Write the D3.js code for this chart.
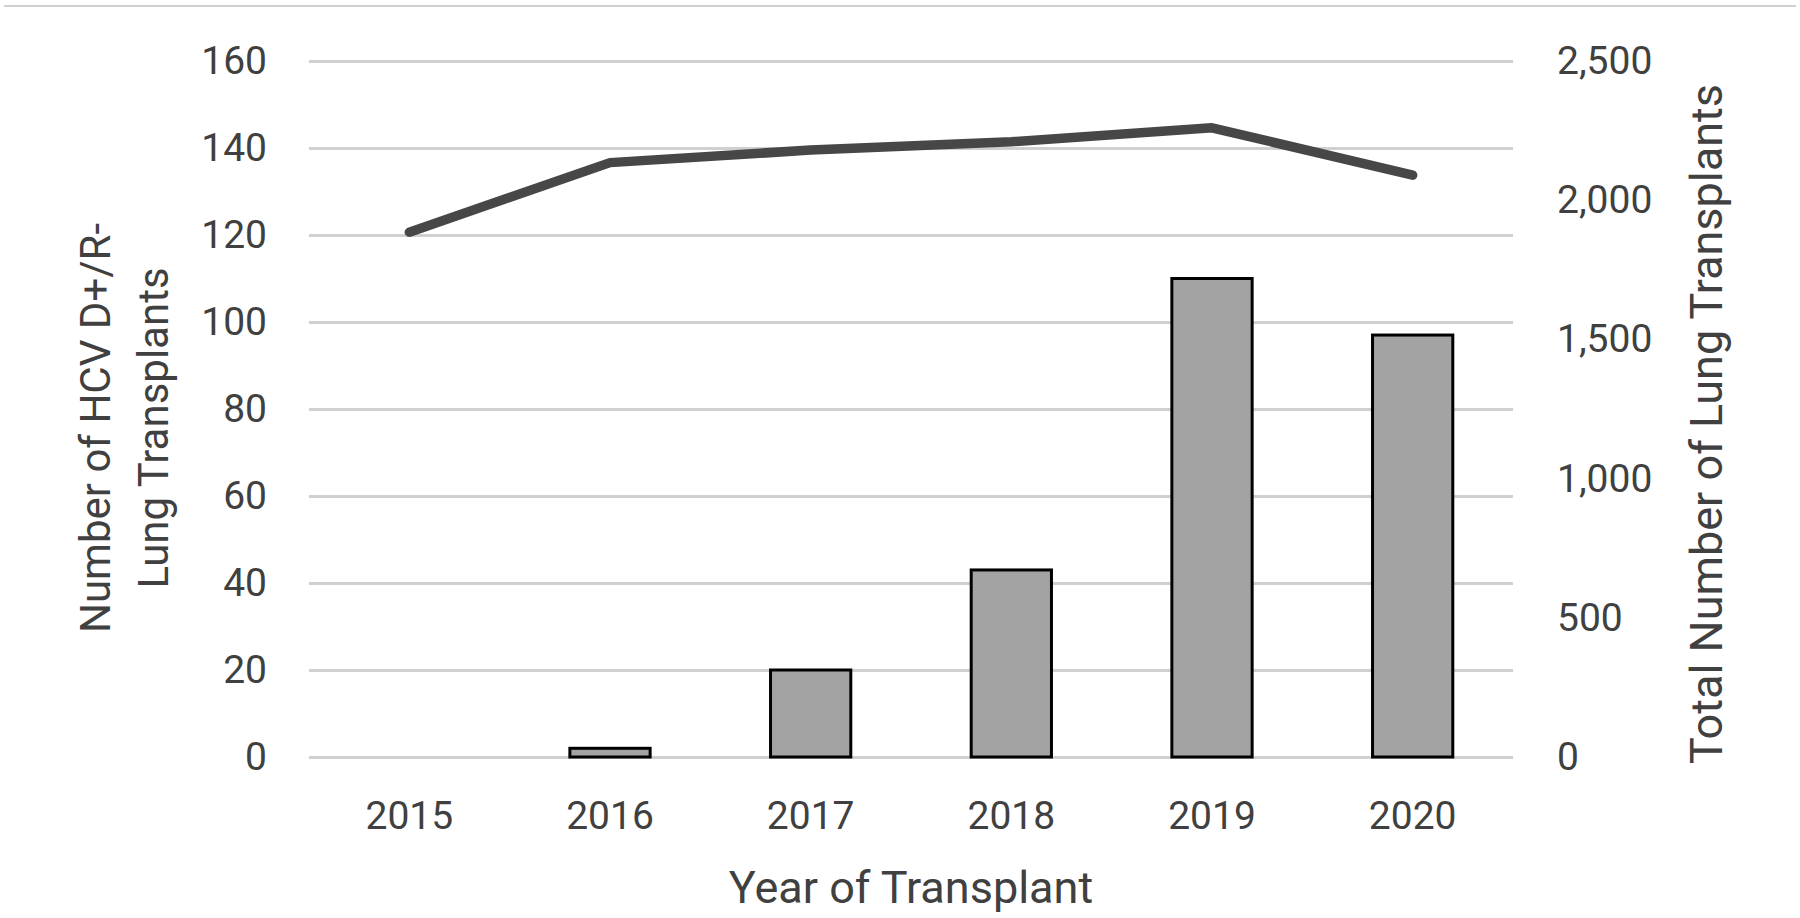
<!DOCTYPE html>
<html>
<head>
<meta charset="utf-8">
<script src="https://cdn.jsdelivr.net/npm/d3@7/dist/d3.min.js"></script>
<style>
  html, body { margin: 0; padding: 0; background: #ffffff; }
  svg { display: block; }
  text { font-family: Roboto, "Open Sans", sans-serif; fill: #404040; }
</style>
</head>
<body>
<svg id="chart" width="1800" height="918"></svg>
<script>
// ---- data ----
const years = ["2015", "2016", "2017", "2018", "2019", "2020"];
const hcvTransplants = [0, 2, 20, 43, 110, 97];
const totalTransplants = [1885, 2135, 2180, 2210, 2260, 2090];
const leftTicks = [0, 20, 40, 60, 80, 100, 120, 140, 160];
const rightTicks = [0, 500, 1000, 1500, 2000, 2500];
const xTitle = "Year of Transplant";
const leftTitleLines = ["Number of HCV D+/R-", "Lung Transplants"];
const rightTitle = "Total Number of Lung Transplants";

// ---- layout ----
const plot = { left: 309, right: 1513, top: 61, bottom: 757 };
const svg = d3.select("#chart");

// top border line
svg.append("line")
  .attr("x1", 4).attr("x2", 1796).attr("y1", 6).attr("y2", 6)
  .attr("stroke", "#d0d0d0").attr("stroke-width", 2);

const x = d3.scaleBand().domain(years).range([plot.left, plot.right]).paddingInner(0).paddingOuter(0);
const barW = x.bandwidth() * 0.4;
const yL = d3.scaleLinear().domain([0, 160]).range([plot.bottom, plot.top]);
const yR = d3.scaleLinear().domain([0, 2500]).range([plot.bottom, plot.top]);

// gridlines
const grid = svg.append("g")
  .attr("transform", `translate(${plot.left},0)`)
  .call(d3.axisLeft(yL).tickValues(leftTicks).tickSize(-(plot.right - plot.left)).tickFormat(""));
grid.select(".domain").remove();
grid.selectAll("line").attr("stroke", "#d0d0d0").attr("stroke-width", 2.8);

// left axis labels
const gL = svg.append("g")
  .attr("transform", `translate(${plot.left},0)`)
  .call(d3.axisLeft(yL).tickValues(leftTicks).tickSize(0).tickPadding(42).tickFormat(d3.format("d")));
gL.select(".domain").remove();
gL.selectAll("text").style("font-size", "39px").attr("fill", "#404040");

// right axis labels
const gR = svg.append("g")
  .attr("transform", `translate(${plot.right},0)`)
  .call(d3.axisRight(yR).tickValues(rightTicks).tickSize(0).tickPadding(44).tickFormat(d3.format(",")));
gR.select(".domain").remove();
gR.selectAll("text").style("font-size", "39px").attr("fill", "#404040");

// bottom axis labels
const gB = svg.append("g")
  .attr("transform", `translate(0,${plot.bottom})`)
  .call(d3.axisBottom(x).tickSize(0).tickPadding(0));
gB.select(".domain").remove();
gB.selectAll("text").style("font-size", "39px").attr("fill", "#404040")
  .attr("dy", 0).attr("y", 72);

// bars
const barData = years.map((yr, i) => ({ year: yr, v: hcvTransplants[i] })).filter(d => d.v > 0);
svg.append("g").selectAll("rect").data(barData).join("rect")
  .attr("x", d => x(d.year) + (x.bandwidth() - barW) / 2)
  .attr("width", barW)
  .attr("y", d => yL(d.v))
  .attr("height", d => yL(0) - yL(d.v))
  .attr("fill", "#a3a3a3")
  .attr("stroke", "#000000")
  .attr("stroke-width", 3);

// line
const lineData = years.map((yr, i) => ({ year: yr, v: totalTransplants[i] }));
const line = d3.line().x(d => x(d.year) + x.bandwidth() / 2).y(d => yR(d.v));
svg.append("path").datum(lineData)
  .attr("d", line)
  .attr("fill", "none")
  .attr("stroke", "#474747")
  .attr("stroke-width", 9.5)
  .attr("stroke-linejoin", "round")
  .attr("stroke-linecap", "round");

// axis titles
svg.append("text")
  .attr("x", (plot.left + plot.right) / 2).attr("y", 903)
  .attr("text-anchor", "middle").style("font-size", "45px")
  .text(xTitle);

const lt = svg.append("text")
  .attr("transform", `translate(110,428) rotate(-90)`)
  .attr("text-anchor", "middle").style("font-size", "42px");
lt.selectAll("tspan").data(leftTitleLines).join("tspan")
  .attr("x", 0).attr("dy", (d, i) => i === 0 ? 0 : 58)
  .text(d => d);

svg.append("text")
  .attr("transform", `translate(1722,424) rotate(-90)`)
  .attr("text-anchor", "middle").style("font-size", "45px")
  .text(rightTitle);
</script>
</body>
</html>
